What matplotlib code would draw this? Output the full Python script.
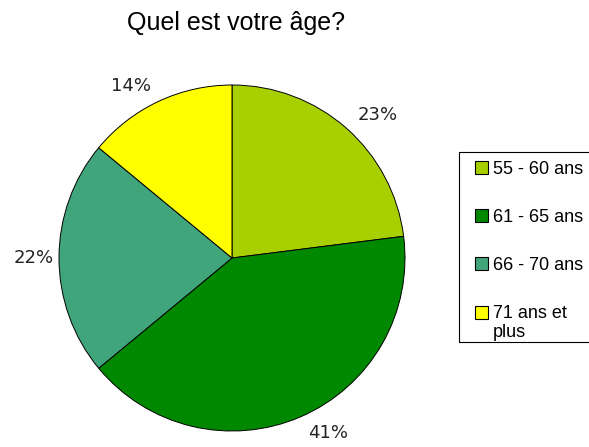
import matplotlib.pyplot as plt
from matplotlib.patches import Patch, Rectangle
from matplotlib.legend_handler import HandlerPatch
from matplotlib.lines import Line2D

# données du graphique
categories = ['55 - 60 ans', '61 - 65 ans', '66 - 70 ans', '71 ans et\nplus']
valeurs = [23, 41, 22, 14]
couleurs = ['#A8D000', '#008800', '#40A57A', '#FFFF00']
etiquettes = [str(v) + '%' for v in valeurs]

fig = plt.figure(figsize=(5.89, 4.47), dpi=100)

# axe du camembert : centre (232, 258) px, rayon 173 px
r = 173
ax = fig.add_axes([(232 - r) / 589, (447 - 258 - r) / 447, 2 * r / 589, 2 * r / 447])
wedges, textes = ax.pie(valeurs, labels=etiquettes, colors=couleurs,
                        startangle=90, counterclock=False, labeldistance=1.1,
                        wedgeprops=dict(edgecolor='black', linewidth=0.7),
                        textprops=dict(fontsize=13, family='DejaVu Sans', color='#222222'))
# l'étiquette 22% est un peu plus près du camembert
textes[2].set_x(textes[2].get_position()[0] + 0.07)
ax.set_xlim(-1, 1)
ax.set_ylim(-1, 1)
ax.set_aspect('equal')

fig.text(236 / 589, 1 - 23 / 447, 'Quel est votre âge?', ha='center', va='center',
         fontsize=18, family='Liberation Sans')


# carré aligné sur la première ligne pour l'étiquette sur deux lignes
def carre_haut(legend, orig_handle, xdescent, ydescent, width, height, fontsize):
    return Rectangle((-xdescent, -ydescent + 7.5), width, height)


handles = [Patch(facecolor=c, edgecolor='black', linewidth=0.8) for c in couleurs]
leg = fig.legend(handles, categories, loc='upper left',
                 bbox_to_anchor=(461 / 589, 1 - 147 / 447),
                 prop=dict(family='Liberation Sans', size=13),
                 frameon=False,
                 handlelength=0.75, handleheight=0.75, handletextpad=0.25,
                 labelspacing=1.72, borderpad=0.75, borderaxespad=0,
                 handler_map={handles[3]: HandlerPatch(patch_func=carre_haut)})

# cadre de la légende : coupé à droite par le bord de l'image
x0, x1 = 459 / 589, 1.05
y0, y1 = 1 - 342 / 447, 1 - 152 / 447
fig.add_artist(Line2D([x1, x0, x0, x1], [y1, y1, y0, y0], color='black', linewidth=0.8))

plt.savefig('out.png', dpi=100)
